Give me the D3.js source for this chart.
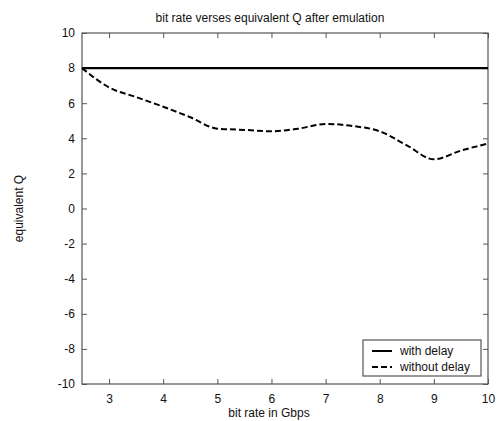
<!DOCTYPE html>
<html>
<head>
<meta charset="utf-8">
<script src="https://cdn.jsdelivr.net/npm/d3@7"></script>
<style>
  html, body { margin: 0; padding: 0; background: #fff; }
  svg { display: block; font-family: "Liberation Sans", Arial, sans-serif; }
</style>
</head>
<body>
<svg id="chart" width="497" height="421"></svg>
<script>
const title = "bit rate verses equivalent Q after emulation";
const xLabel = "bit rate in Gbps";
const yLabel = "equivalent Q";
const xTicks = [3, 4, 5, 6, 7, 8, 9, 10];
const yTicks = [-10, -8, -6, -4, -2, 0, 2, 4, 6, 8, 10];
const seriesNames = ["with delay", "without delay"];
const bitRate = [2.5, 3, 3.5, 4, 4.5, 5, 5.5, 6, 6.5, 7, 7.5, 8, 8.5, 9, 9.5, 10];
const withDelay = [8, 8, 8, 8, 8, 8, 8, 8, 8, 8, 8, 8, 8, 8, 8, 8];
const withoutDelay = [8, 6.9, 6.35, 5.8, 5.2, 4.55, 4.48, 4.4, 4.55, 4.82, 4.7, 4.4, 3.6, 2.8, 3.3, 3.7];

const svg = d3.select("#chart");
const L = 82, R = 488, T = 33, B = 384;
const x = d3.scaleLinear().domain([2.5, 10]).range([L, R]);
const y = d3.scaleLinear().domain([-10, 10]).range([B, T]);
const axisColor = "#555";
const fmt = d => String(d); // plain hyphen-minus like the reference

// frame
svg.append("rect").attr("x", L).attr("y", T).attr("width", R - L).attr("height", B - T)
  .attr("fill", "none").attr("stroke", axisColor).attr("stroke-width", 1.2);

function styleAxis(g) {
  g.select(".domain").remove();
  g.selectAll(".tick line").attr("stroke", axisColor);
  g.selectAll(".tick text").attr("fill", "#111").style("font-size", "12px")
    .style("font-family", '"Liberation Sans", Arial, sans-serif');
}

// bottom axis (ticks inward)
svg.append("g").attr("transform", `translate(0,${B})`)
  .call(d3.axisBottom(x).tickValues(xTicks).tickSize(-5).tickPadding(10).tickFormat(fmt))
  .call(styleAxis);
// top axis ticks
svg.append("g").attr("transform", `translate(0,${T})`)
  .call(d3.axisTop(x).tickValues(xTicks).tickSize(-5).tickFormat(""))
  .call(styleAxis);
// left axis
svg.append("g").attr("transform", `translate(${L},0)`)
  .call(d3.axisLeft(y).tickValues(yTicks).tickSize(-5).tickPadding(7).tickFormat(fmt))
  .call(styleAxis);
// right axis ticks
svg.append("g").attr("transform", `translate(${R},0)`)
  .call(d3.axisRight(y).tickValues(yTicks).tickSize(-5).tickFormat(""))
  .call(styleAxis);

// lines
const lineWith = d3.line().x((d, i) => x(bitRate[i])).y(d => y(d));
const lineWithout = d3.line().x((d, i) => x(bitRate[i])).y(d => y(d)).curve(d3.curveMonotoneX);

svg.append("path").datum(withDelay).attr("d", lineWith)
  .attr("fill", "none").attr("stroke", "#000").attr("stroke-width", 2.2);
svg.append("path").datum(withoutDelay).attr("d", lineWithout)
  .attr("fill", "none").attr("stroke", "#000").attr("stroke-width", 2)
  .attr("stroke-dasharray", "6,3");

// title & labels
svg.append("text").attr("x", 270).attr("y", 22).attr("text-anchor", "middle")
  .style("font-size", "12px").attr("fill", "#111").text(title);
svg.append("text").attr("x", 269).attr("y", 417).attr("text-anchor", "middle")
  .style("font-size", "12px").attr("fill", "#111").text(xLabel);
svg.append("text").attr("transform", `translate(23,${(T + B) / 2}) rotate(-90)`)
  .attr("text-anchor", "middle").style("font-size", "12px").attr("fill", "#111").text(yLabel);

// legend
const lg = svg.append("g");
lg.append("rect").attr("x", 363).attr("y", 340).attr("width", 118).attr("height", 36)
  .attr("fill", "#fff").attr("stroke", axisColor).attr("stroke-width", 1.2);
const dashes = [null, "6,3"];
seriesNames.forEach((name, i) => {
  const yy = 351 + i * 16;
  lg.append("line").attr("x1", 372).attr("x2", 392).attr("y1", yy).attr("y2", yy)
    .attr("stroke", "#000").attr("stroke-width", 2).attr("stroke-dasharray", dashes[i]);
  lg.append("text").attr("x", 400).attr("y", yy + 4).style("font-size", "12px")
    .attr("fill", "#111").text(name);
});
</script>
</body>
</html>
